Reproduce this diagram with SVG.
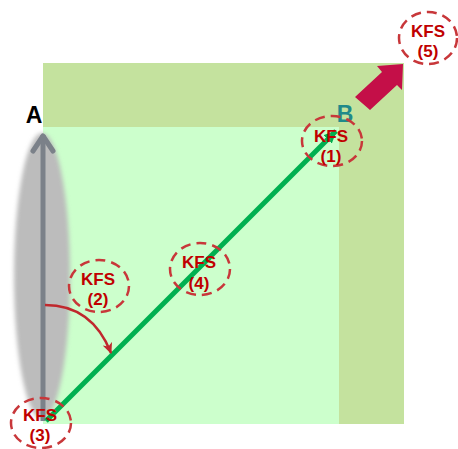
<svg xmlns="http://www.w3.org/2000/svg" width="458" height="449" viewBox="0 0 458 449">
<defs>
<style>
.kfs-ring{fill:none;stroke:#c8373a;stroke-width:2.5;stroke-dasharray:10 6}
.kfs-text{font-family:"Liberation Sans",Arial,sans-serif;font-weight:bold;font-size:17px;fill:#c00000;text-anchor:middle}
.lbl{font-family:"Liberation Sans",Arial,sans-serif;font-weight:bold;font-size:23px;text-anchor:middle}
</style>
<filter id="blur" x="-50%" y="-10%" width="200%" height="120%"><feGaussianBlur stdDeviation="2"/></filter>
<marker id="greenHead" markerUnits="userSpaceOnUse" markerWidth="16" markerHeight="16" refX="12" refY="7" orient="auto"><path d="M0,1 L13,7 L0,13 Z" fill="#00b050"/></marker>
<marker id="redHead" markerUnits="userSpaceOnUse" markerWidth="14" markerHeight="14" refX="10" refY="6" orient="auto"><path d="M0,1 L11,6 L0,11 L3,6 Z" fill="#c0282d"/></marker>
</defs>
<rect x="0" y="0" width="458" height="449" fill="#ffffff"/>
<g id="background">
<rect x="43" y="63" width="361" height="361" fill="#c4e29e"/>
<rect x="43" y="127" width="296" height="297" fill="#ccffcc"/>
</g>
<g id="axis-a">
<ellipse cx="42" cy="276" rx="28" ry="143" fill="#bcbcbc" filter="url(#blur)"/>
<line x1="43" y1="421" x2="43" y2="135" stroke="#7b8189" stroke-width="5"/>
<polyline points="33,151 43,136 53,151" fill="none" stroke="#7b8189" stroke-width="5" stroke-linecap="round" stroke-linejoin="round"/>
<text class="lbl" x="34" y="123" fill="#000000">A</text>
</g>
<g id="label-b">
<text class="lbl" x="345" y="122" fill="#1f8a8a">B</text>
</g>
<g id="connectors">
<line x1="46" y1="421" x2="336" y2="131" stroke="#00b050" stroke-width="5" marker-end="url(#greenHead)"/>
<path d="M45,305 C80,305 100,325 111,353" fill="none" stroke="#c0282d" stroke-width="2.5" marker-end="url(#redHead)"/>
<polygon points="355,97 382,72 377,66 403,64 402,90 397,85 370,110" fill="#c40f48"/>
</g>
<g id="kfs1">
<ellipse class="kfs-ring" cx="332" cy="141" rx="30" ry="25"/>
<text class="kfs-text" x="331" y="142">KFS</text>
<text class="kfs-text" x="331" y="162">(1)</text>
</g>
<g id="kfs2">
<ellipse class="kfs-ring" cx="99" cy="286" rx="30" ry="26"/>
<text class="kfs-text" x="98" y="285">KFS</text>
<text class="kfs-text" x="98" y="305">(2)</text>
</g>
<g id="kfs3">
<ellipse class="kfs-ring" cx="41" cy="423" rx="30" ry="25"/>
<text class="kfs-text" x="40" y="421">KFS</text>
<text class="kfs-text" x="40" y="441">(3)</text>
</g>
<g id="kfs4">
<ellipse class="kfs-ring" cx="200" cy="269" rx="30" ry="26"/>
<text class="kfs-text" x="199" y="268">KFS</text>
<text class="kfs-text" x="199" y="289">(4)</text>
</g>
<g id="kfs5">
<ellipse class="kfs-ring" cx="428" cy="38" rx="29" ry="26"/>
<text class="kfs-text" x="428" y="37">KFS</text>
<text class="kfs-text" x="428" y="57">(5)</text>
</g>
</svg>
